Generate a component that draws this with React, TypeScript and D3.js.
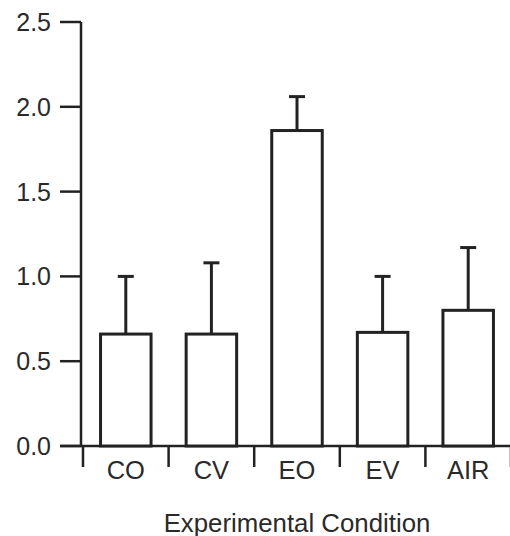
import React from "react";
import * as d3 from "d3";

const conditions = ["CO", "CV", "EO", "EV", "AIR"];
const means = [0.66, 0.66, 1.86, 0.67, 0.8];
const upperErrors = [1.0, 1.08, 2.06, 1.0, 1.17];
const yTicks = [0, 0.5, 1.0, 1.5, 2.0, 2.5];

const width = 510;
const height = 536;
const axisX = 81;
const x0 = 83;
const x1 = 511;
const yBottom = 446;
const yTop = 22;
const ink = "#222";
const font = "'Liberation Sans', Arial, sans-serif";

const App = () => {
  const x = d3.scaleBand<string>().domain(conditions).range([x0, x1]).paddingInner(0.41).paddingOuter(0.205);
  const y = d3.scaleLinear().domain([0, 2.5]).range([yBottom, yTop]);
  const step = x.step();

  return (
    <svg width={width} height={height} style={{ position: "absolute", left: 0, top: 0 }}>
      <rect width={width} height={height} fill="#fff" />
      {/* y axis */}
      <line x1={axisX} x2={axisX} y1={y(2.5)} y2={yBottom} stroke={ink} strokeWidth={2.5} />
      {yTicks.map((t) => (
        <g key={t}>
          <line x1={60} x2={axisX} y1={y(t)} y2={y(t)} stroke={ink} strokeWidth={2.5} />
          <text x={51} y={y(t)} dy="0.36em" textAnchor="end" fontFamily={font} fontSize={25} fill="#2a2a2a">
            {t.toFixed(1)}
          </text>
        </g>
      ))}
      {/* x axis */}
      <line x1={60} x2={x1} y1={yBottom} y2={yBottom} stroke={ink} strokeWidth={2.5} />
      {d3.range(conditions.length + 1).map((i) => (
        <line key={i} x1={x0 + i * step} x2={x0 + i * step} y1={yBottom} y2={467} stroke={ink} strokeWidth={2.5} />
      ))}
      {conditions.map((c) => (
        <text key={c} x={x(c)! + x.bandwidth() / 2} y={479} textAnchor="middle" fontFamily={font} fontSize={25.5} fill="#2a2a2a">
          {c}
        </text>
      ))}
      {/* error bars */}
      {conditions.map((c, i) => {
        const cx = x(c)! + x.bandwidth() / 2;
        return (
          <g key={c}>
            <line x1={cx} x2={cx} y1={y(means[i])} y2={y(upperErrors[i])} stroke={ink} strokeWidth={3} />
            <line x1={cx - 8} x2={cx + 8} y1={y(upperErrors[i])} y2={y(upperErrors[i])} stroke={ink} strokeWidth={3} />
          </g>
        );
      })}
      {/* bars */}
      {conditions.map((c, i) => (
        <rect
          key={c}
          x={x(c)!}
          y={y(means[i])}
          width={x.bandwidth()}
          height={yBottom - y(means[i])}
          fill="#fff"
          stroke={ink}
          strokeWidth={3}
        />
      ))}
      <text x={(x0 + x1) / 2} y={532} textAnchor="middle" fontFamily={font} fontSize={25.8} fill="#2a2a2a">
        Experimental Condition
      </text>
    </svg>
  );
};

export default App;
